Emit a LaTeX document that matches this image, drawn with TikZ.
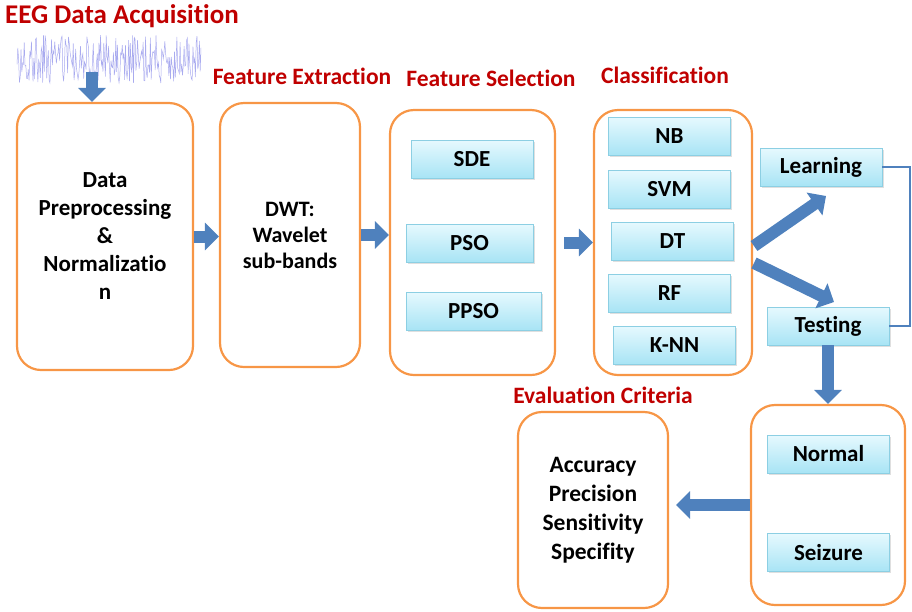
\documentclass[tikz,border=0pt]{standalone}
\usepackage{fontspec}
\setmainfont{Carlito}[Ligatures=CommonOff]
\usetikzlibrary{arrows.meta}
\usetikzlibrary{shadows}
\definecolor{boxorange}{HTML}{F79646}
\definecolor{titlered}{HTML}{C00000}
\definecolor{arrowblue}{HTML}{4F81BD}
\definecolor{cyantop}{HTML}{E6F9FE}
\definecolor{cyanbot}{HTML}{A8E4F5}
\definecolor{cyanline}{HTML}{8CCFE3}
\definecolor{eegline}{HTML}{A9ABEF}

\begin{document}
\begin{tikzpicture}[x=1pt, y=-1pt]
	\tikzstyle{stage}=[draw=boxorange, line width=2.2pt, rounded corners=24pt,
	                        align=center, font=\bfseries\fontsize{23}{28}\selectfont];
	\tikzstyle{method}=[draw=cyanline, line width=0.8pt, top color=cyantop, bottom color=cyanbot,
	                        minimum width=122pt, minimum height=38pt, font=\bfseries\fontsize{23}{26}\selectfont,
	                        drop shadow={opacity=0.25, shadow xshift=1.5pt, shadow yshift=-1.5pt}];
	\tikzstyle{title}=[text=titlered, font=\bfseries\fontsize{23.5}{26}\selectfont];
	\tikzstyle{block}=[arrowblue, line width=12pt, -{Triangle[width=27pt,length=14pt]}];
	\useasboundingbox (0,0) rectangle (912,611);
	% titles
	\node[title, font=\bfseries\fontsize{27}{30}\selectfont] (t0) at (122,16) {EEG Data Acquisition};
	\node[title] (t1) at (302,76) {Feature Extraction};
	\node[title] (t2) at (491,78) {Feature Selection};
	\node[title] (t3) at (665,75) {Classification};
	\node[title] (t4) at (603,395) {Evaluation Criteria};
	% signal
	\pgfmathsetseed{7}
	\draw[eegline, line width=0.5pt] plot[domain=17:201, samples=230] (\x, {59+24*rand});
	\node (eeg) [minimum width=184pt, minimum height=52pt, inner sep=0pt] at (109,59) {};
	% stages
	\node[stage, minimum width=176pt, minimum height=267pt] (pre) at (105,236.5)
	    {Data\\Preprocessing\\\&\\Normalizatio\\n};
	\node[stage, minimum width=140pt, minimum height=264pt, font=\bfseries\fontsize{22}{26}\selectfont]
	    (dwt) at (290,235) {DWT:\\Wavelet\\sub-bands};
	\node[stage, minimum width=165pt, minimum height=265pt] (sel) at (472.5,242.5) {};
	\node[stage, minimum width=158pt, minimum height=265pt] (cls) at (673,242.5) {};
	\node[stage, minimum width=154pt, minimum height=200pt] (out) at (828,505) {};
	\node[stage, minimum width=150pt, minimum height=196pt, font=\bfseries\fontsize{23.5}{29}\selectfont]
	    (eval) at (593,510) {Accuracy\\Precision\\Sensitivity\\Specifity};
	% methods
	\node[method] (sde) at (472,159) {SDE};
	\node[method, minimum width=127pt] (pso) at (469.5,243) {PSO};
	\node[method, minimum width=135pt] (ppso) at (473.5,311) {PPSO};
	\node[method] (nb) at (669.5,136) {NB};
	\node[method] (svm) at (669.5,189) {SVM};
	\node[method] (dt) at (672.5,241) {DT};
	\node[method] (rf) at (669.5,293) {RF};
	\node[method] (knn) at (674.5,345) {K-NN};
	\node[method] (learn) at (821,167) {Learning};
	\node[method] (test) at (828,326) {Testing};
	\node[method] (normal) at (828.5,454) {Normal};
	\node[method] (seizure) at (828.5,552.5) {Seizure};
	% arrows
	\coordinate (fork1) at (754,246);
	\coordinate (fork2) at (754,263);
	\coordinate (up) at (826,196);
	\coordinate (down) at (834,302);
	\draw[block] ([xshift=-17pt,yshift=13pt]eeg.south) -- ([xshift=-13pt]pre.north);
	\draw[block] (pre.east) -- (pre.east -| dwt.west);
	\draw[block] (dwt.east) -- (dwt.east -| sel.west);
	\draw[block, shorten <=8pt] (sel.east) -- (sel.east -| cls.west);
	\draw[block] (fork1) -- (up);
	\draw[block] (fork2) -- (down);
	\draw[block] (test.south) -- (out.north);
	\draw[block, shorten >=7pt] (out.west) -- (out.west -| eval.east);
	\draw[arrowblue, line width=2pt] (learn.east) -- ++(28,0) |- (test.east);
\end{tikzpicture}
\end{document}
